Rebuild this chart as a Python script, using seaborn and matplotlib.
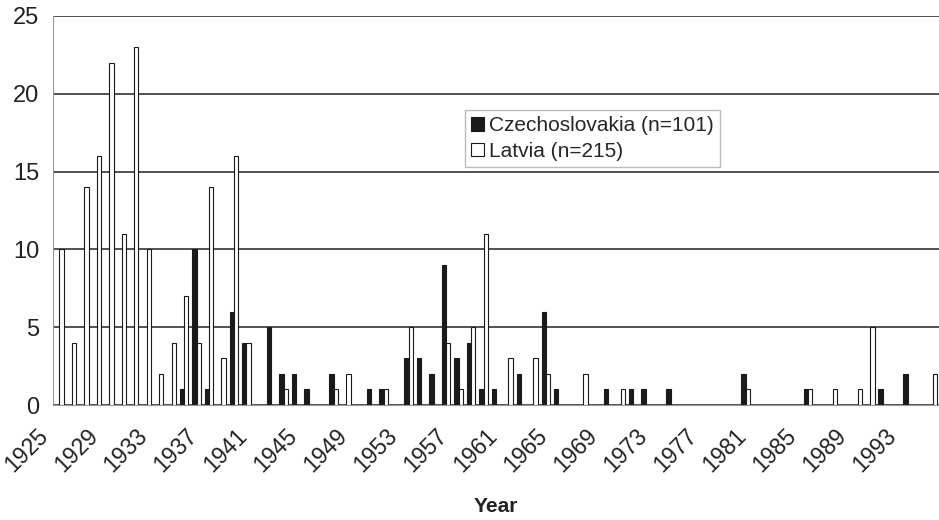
import pandas as pd
import numpy as np
import matplotlib
matplotlib.use('Agg')
import matplotlib.pyplot as plt
import matplotlib.transforms as mtransforms
from matplotlib.patches import Patch
import seaborn as sns

sns.set_style('white')
plt.rcParams['font.family'] = ['Liberation Sans', 'DejaVu Sans']

# Datos: numero de casos por anio
years = list(range(1925, 1996))
czechoslovakia = [0, 0, 0, 0, 0, 0, 0, 0, 0, 0,
                  1, 10, 1, 0, 6, 4, 0, 5, 2, 2,
                  1, 0, 2, 0, 0, 1, 1, 0, 3, 3,
                  2, 9, 3, 4, 1, 1, 0, 2, 0, 6,
                  1, 0, 0, 0, 1, 0, 1, 1, 0, 1,
                  0, 0, 0, 0, 0, 2, 0, 0, 0, 0,
                  1, 0, 0, 0, 0, 0, 1, 0, 2, 0,
                  0]
latvia = [10, 4, 14, 16, 22, 11, 23, 10, 2, 4,
          7, 4, 14, 3, 16, 4, 0, 0, 1, 0,
          0, 0, 1, 2, 0, 0, 1, 0, 5, 0,
          0, 4, 1, 5, 11, 0, 3, 0, 3, 2,
          0, 0, 2, 0, 0, 1, 0, 0, 0, 0,
          0, 0, 0, 0, 0, 1, 0, 0, 0, 0,
          1, 0, 1, 0, 1, 5, 0, 0, 0, 0,
          2]
series_names = ['Czechoslovakia (n=101)', 'Latvia (n=215)']
colors = ['#1a1a1a', 'white']

df = pd.DataFrame({
    'Year': [str(y) for y in years] * 2,
    'Count': czechoslovakia + latvia,
    'Country': [series_names[0]] * len(years) + [series_names[1]] * len(years),
})

fig = plt.figure(figsize=(9.39, 5.2), dpi=100)
ax = fig.add_axes([53 / 939, 115 / 520, 886 / 939, 389 / 520])

sns.barplot(data=df, x='Year', y='Count', hue='Country',
            palette=colors, edgecolor='#1a1a1a', linewidth=0.8,
            width=0.7, legend=False, ax=ax)

# ocultar barras con valor cero
for p in ax.patches:
    if p.get_height() == 0:
        p.set_visible(False)

ax.set_xlim(-0.5, len(years) - 0.5)
ax.set_ylim(0, 25)
ax.set_yticks(range(0, 26, 5))
ax.set_axisbelow(True)
ax.yaxis.grid(True, color='#333333', linewidth=1.2)

for s in ['top', 'right']:
    ax.spines[s].set_visible(False)
ax.spines['left'].set_color('#999999')
ax.spines['bottom'].set_color('#999999')

# etiquetas cada 4 anios, marcas entre categorias
pos = np.arange(0, len(years), 4)
ax.set_xticks(pos)
ax.set_xticks(np.arange(-0.5, len(years), 1), minor=True)
ax.tick_params(axis='x', which='major', length=0, pad=20)
ax.tick_params(axis='x', which='minor', length=5, color='#aaaaaa', direction='out')
ax.tick_params(axis='y', length=5, color='#aaaaaa', labelsize=17, labelcolor='#222222', pad=5)
ax.set_xticklabels([str(years[i]) for i in pos], rotation=45, ha='right',
                   va='center', rotation_mode='anchor', fontsize=16.5, color='#222222')
# desplazar las etiquetas un poco a la izquierda (como en Excel)
shift = mtransforms.ScaledTranslation(-15 / 100, 0, fig.dpi_scale_trans)
for lbl in ax.get_xticklabels():
    lbl.set_transform(lbl.get_transform() + shift)

ax.set_xlabel('Year', fontsize=15, fontweight='bold', color='#222222', va='top')
ax.xaxis.set_label_coords(0.5, (405 - 497) / 389)
ax.set_ylabel('')

handles = [Patch(facecolor=c, edgecolor='#1a1a1a', linewidth=0.8) for c in colors]
ax.legend(handles, series_names, loc='upper left', bbox_to_anchor=(0.465, 0.758),
          fontsize=15, frameon=True, fancybox=False, edgecolor='#bbbbbb',
          framealpha=1, handlelength=0.6, handleheight=0.6, handletextpad=0.25,
          borderpad=0.3, labelspacing=0.3, borderaxespad=0)

plt.savefig('out.png', dpi=100)
